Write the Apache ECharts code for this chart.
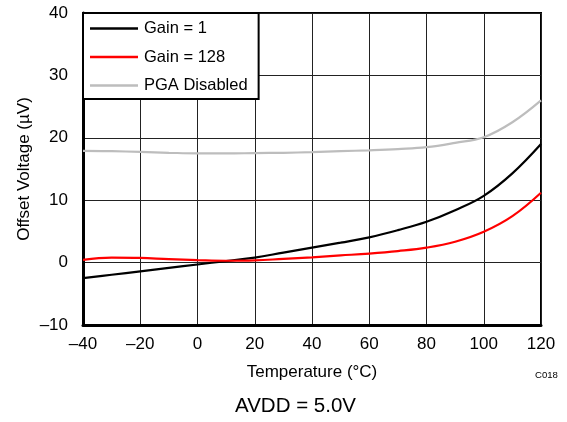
<!DOCTYPE html>
<html>
<head>
<meta charset="utf-8">
<script src="https://cdn.jsdelivr.net/npm/echarts@6/dist/echarts.min.js"></script>
<style>
html,body{margin:0;padding:0;background:#fff;}
#chart{width:567px;height:422px;}
</style>
</head>
<body>
<div id="chart"></div>
<script>
const temps = [-40,-30,-20,-10,0,10,20,30,40,50,60,70,80,90,100,110,120];
const gain1 = [-2.5,-1.95,-1.4,-0.85,-0.3,0.25,0.8,1.6,2.4,3.2,4.05,5.2,6.55,8.4,10.7,14.3,19.0];
const gain128 = [0.45,0.8,0.75,0.55,0.4,0.3,0.35,0.6,0.85,1.15,1.45,1.85,2.4,3.35,4.95,7.45,11.2];
const pgaDisabled = [17.9,17.85,17.75,17.6,17.5,17.5,17.55,17.6,17.7,17.85,18.0,18.2,18.5,19.2,20.1,22.5,26.0];
const seriesNames = ['Gain = 1','Gain = 128','PGA Disabled'];
const xTitle = 'Temperature (°C)';
const yTitle = 'Offset Voltage (µV)';
const footnote = 'AVDD = 5.0V';
const code = 'C018';

const FONT = 'Liberation Sans, Arial, sans-serif';
const pair = (xs, ys) => xs.map((x,i)=>[x, ys[i]]);
const fmt = v => v<0 ? '\u2013'+Math.abs(v) : String(v);

const chart = echarts.init(document.getElementById('chart'), null, {renderer:'canvas'});
chart.setOption({
  animation:false,
  backgroundColor:'#fff',
  grid:{left:83,right:26,top:13,bottom:97,show:true,borderColor:'#000',borderWidth:2,backgroundColor:'transparent'},
  xAxis:{
    type:'value',min:-40,max:120,interval:20,
    name:xTitle,nameLocation:'middle',nameGap:39,nameMoveOverlap:false,
    nameTextStyle:{fontFamily:FONT,fontSize:17,color:'#000'},
    axisLine:{show:true,onZero:false,lineStyle:{color:'#000',width:3}},
    axisTick:{show:false},
    axisLabel:{fontFamily:FONT,fontSize:17,color:'#000',margin:11,formatter:fmt},
    splitLine:{show:true,lineStyle:{color:'#222',width:1}}
  },
  yAxis:{
    type:'value',min:-10,max:40,interval:10,
    name:yTitle,nameLocation:'middle',nameGap:50,nameMoveOverlap:false,
    nameTextStyle:{fontFamily:FONT,fontSize:17,color:'#000'},
    axisLine:{show:true,onZero:false,lineStyle:{color:'#000',width:3}},
    axisTick:{show:false},
    axisLabel:{fontFamily:FONT,fontSize:17,color:'#000',margin:15,formatter:fmt},
    splitLine:{show:true,lineStyle:{color:'#222',width:1}}
  },
  legend:{
    left:83,top:13,orient:'vertical',
    backgroundColor:'#fff',borderColor:'#000',borderWidth:2,
    padding:[7,11,5,7],itemGap:11.5,itemWidth:48,itemHeight:2.5,
    icon:'rect',
    textStyle:{fontFamily:FONT,fontSize:16.5,lineHeight:17,color:'#000',padding:[0,0,0,1]},
    data:seriesNames
  },
  series:[
    {name:seriesNames[0],type:'line',smooth:0.4,symbol:'none',data:pair(temps,gain1),
     lineStyle:{color:'#000',width:2.2},itemStyle:{color:'#000'},z:4},
    {name:seriesNames[1],type:'line',smooth:0.4,symbol:'none',data:pair(temps,gain128),
     lineStyle:{color:'#f00',width:2.2},itemStyle:{color:'#f00'},z:5},
    {name:seriesNames[2],type:'line',smooth:0.4,symbol:'none',data:pair(temps,pgaDisabled),
     lineStyle:{color:'#bdbdbd',width:2.2},itemStyle:{color:'#bdbdbd'},z:3}
  ],
  graphic:[
    {type:'text',left:535,top:370,style:{text:code,fontFamily:FONT,fontSize:9.6,fill:'#000'}},
    {type:'text',left:235,top:396,style:{text:footnote,fontFamily:FONT,fontSize:20.5,fill:'#000'}}
  ]
});
</script>
</body>
</html>
